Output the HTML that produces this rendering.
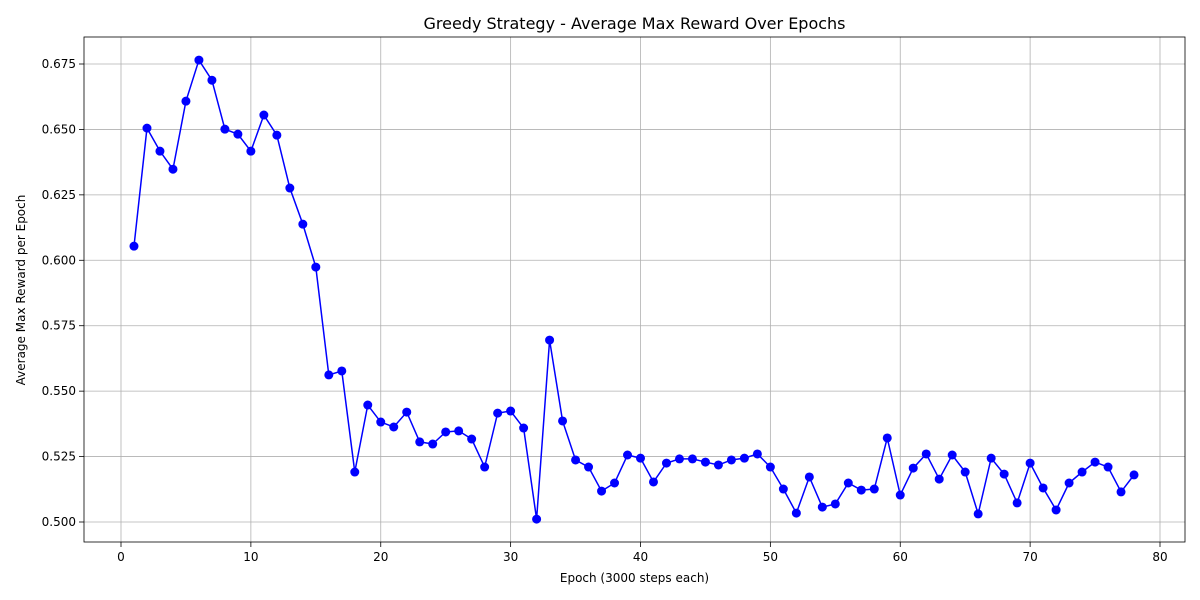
<!DOCTYPE html>
<html><head><meta charset="utf-8">
<style>
html,body{margin:0;padding:0;background:#fff;}
svg{display:block;font-family:"DejaVu Sans","Liberation Sans",sans-serif;}
</style></head>
<body>
<svg id="chart" width="1200" height="600"></svg>
<script>
const epochs = [];
for (let i = 1; i <= 78; i++) epochs.push(i);
const rewards = [0.6054,0.6505,0.6417,0.6348,0.6608,0.6765,0.6688,0.6501,0.6482,0.6417,
0.6555,0.6478,0.6276,0.6138,0.5974,0.5562,0.5577,0.5191,0.5447,0.5382,
0.5363,0.5420,0.5306,0.5298,0.5344,0.5348,0.5317,0.5210,0.5416,0.5424,
0.5359,0.5011,0.5695,0.5386,0.5237,0.5210,0.5118,0.5149,0.5256,0.5244,
0.5153,0.5225,0.5241,0.5241,0.5229,0.5218,0.5237,0.5244,0.5260,0.5210,
0.5126,0.5034,0.5172,0.5057,0.5069,0.5149,0.5122,0.5126,0.5321,0.5103,
0.5206,0.5260,0.5164,0.5256,0.5191,0.5031,0.5244,0.5183,0.5073,0.5225,
0.5130,0.5046,0.5149,0.5191,0.5229,0.5210,0.5115,0.5180];
const xTicks = [0,10,20,30,40,50,60,70,80];
const yTicks = [0.500,0.525,0.550,0.575,0.600,0.625,0.650,0.675];

const NS = "http://www.w3.org/2000/svg";
const svg = document.getElementById('chart');
const L=84,R=1185,T=37,B=542;
const xs = v => 121 + (v-0)*(1160-121)/80;
const ys = v => 522 - (v-0.5)*(458/0.175);
function mk(tag, attrs, parent){const e=document.createElementNS(NS,tag);for(const k in attrs)e.setAttribute(k,attrs[k]);(parent||svg).appendChild(e);return e;}

const grid = mk('g',{});


xTicks.forEach(t=>{
  mk('line',{x1:xs(t),x2:xs(t),y1:T,y2:B,stroke:'#b0b0b0','stroke-width':0.8},grid);
  mk('line',{x1:xs(t),x2:xs(t),y1:B,y2:B+5,stroke:'#000','stroke-width':0.8});
  const tx=mk('text',{x:xs(t),y:B+19,'text-anchor':'middle','font-size':12,fill:'#000'});
  
  
  tx.textContent=t;
});
yTicks.forEach(t=>{
  mk('line',{x1:L,x2:R,y1:ys(t),y2:ys(t),stroke:'#b0b0b0','stroke-width':0.8},grid);
  mk('line',{x1:L-5,x2:L,y1:ys(t),y2:ys(t),stroke:'#000','stroke-width':0.8});
  const tx=mk('text',{x:L-8,y:ys(t)+4,'text-anchor':'end','font-size':12,fill:'#000'});
  
  
  tx.textContent=t.toFixed(3);
});

const line = mk('polyline',{points:epochs.map((e,i)=>xs(e)+','+ys(rewards[i])).join(' '),fill:'none',stroke:'#0000ff','stroke-width':1.5});


epochs.forEach((e,i)=>{
  const c=mk('circle',{cx:xs(e),cy:ys(rewards[i]),r:4.5,fill:'#0000ff'});
  
  
});

const frame=mk('rect',{x:L,y:T,width:R-L,height:B-T,fill:'none',stroke:'#000','stroke-width':0.8});



const title=mk('text',{x:(L+R)/2,y:29,'text-anchor':'middle','font-size':16,fill:'#000'});


title.textContent='Greedy Strategy - Average Max Reward Over Epochs';
const xt=mk('text',{x:(L+R)/2,y:582,'text-anchor':'middle','font-size':12,fill:'#000'});


xt.textContent='Epoch (3000 steps each)';
const yt=mk('text',{x:0,y:0,'text-anchor':'middle','font-size':12,fill:'#000',transform:'translate(25,290) rotate(-90)'});


yt.textContent='Average Max Reward per Epoch';
</script>
</body></html>
